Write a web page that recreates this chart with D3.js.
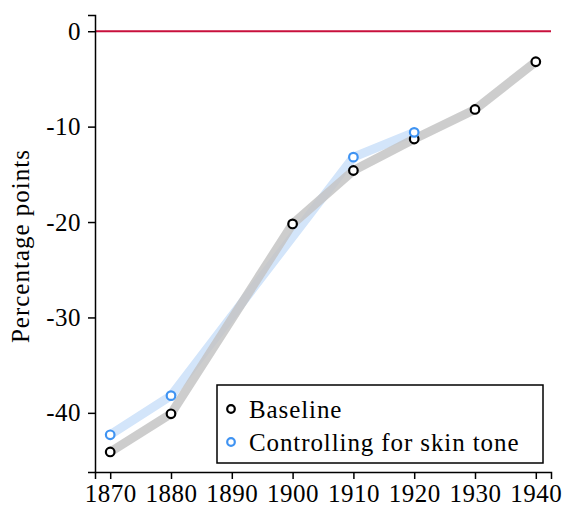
<!DOCTYPE html>
<html lang="en">
<head>
<meta charset="utf-8">
<title>Percentage points by census year</title>
<script src="https://d3js.org/d3.v7.min.js"></script>
<style>
  body { margin: 0; background: #fff; }
  text { font-family: "Liberation Serif", "Times New Roman", serif; }
</style>
</head>
<body>
<script>
// census years and estimates
var years = [1870, 1880, 1890, 1900, 1910, 1920, 1930, 1940];
var baseYears = [1870, 1880, 1900, 1910, 1920, 1930, 1940];
var baseline = [-44.1, -40.1, -20.2, -14.6, -11.3, -8.2, -3.2];
var skinYears = [1870, 1880, 1910, 1920];
var skinTone = [-42.3, -38.2, -13.2, -10.6];
var yTicks = [0, -10, -20, -30, -40];
var legendLabels = ["Baseline", "Controlling for skin tone"];

var width = 562, height = 508;
var svg = d3.select("body").append("svg")
    .attr("width", width)
    .attr("height", height);

var x = d3.scaleLinear().domain([1867.5, 1942.5]).range([95, 551]);
var y = d3.scaleLinear().domain([-46.2, 1.7]).range([472, 15]);

var line = d3.line()
    .x(function(d) { return x(d[0]); })
    .y(function(d) { return y(d[1]); });

var basePts = d3.zip(baseYears, baseline);
var skinPts = d3.zip(skinYears, skinTone);

// zero reference line
svg.append("line")
    .attr("x1", x.range()[0]).attr("x2", x.range()[1])
    .attr("y1", y(0)).attr("y2", y(0))
    .attr("stroke", "#c8103c")
    .attr("stroke-width", 2);

// bands
svg.append("path")
    .datum(skinPts)
    .attr("d", line)
    .attr("fill", "none")
    .attr("stroke", "#d3e5fa")
    .attr("stroke-width", 9)
    .attr("stroke-linejoin", "round");

svg.append("path")
    .datum(basePts)
    .attr("d", line)
    .attr("fill", "none")
    .attr("stroke", "#c4c4c4")
    .attr("stroke-opacity", 0.85)
    .attr("stroke-width", 9)
    .attr("stroke-linejoin", "round");

// points
svg.append("g").selectAll("circle")
    .data(basePts)
    .enter().append("circle")
    .attr("cx", function(d) { return x(d[0]); })
    .attr("cy", function(d) { return y(d[1]); })
    .attr("r", 4.3)
    .attr("fill", "#fff")
    .attr("stroke", "#000")
    .attr("stroke-width", 2.2);

svg.append("g").selectAll("circle")
    .data(skinPts)
    .enter().append("circle")
    .attr("cx", function(d) { return x(d[0]); })
    .attr("cy", function(d) { return y(d[1]); })
    .attr("r", 4.3)
    .attr("fill", "#fff")
    .attr("stroke", "#3f93f2")
    .attr("stroke-width", 2.2);

// axes
var xAxis = svg.append("g")
    .attr("transform", "translate(0," + y.range()[0] + ")")
    .call(d3.axisBottom(x).tickValues(years).tickFormat(d3.format("d")).tickSizeOuter(0).tickSize(7).tickPadding(5));

var yAxis = svg.append("g")
    .attr("transform", "translate(" + x.range()[0] + ",0)")
    .call(d3.axisLeft(y).tickValues(yTicks).tickFormat(function(d) { return d === 0 ? "0" : "-" + Math.abs(d); }).tickSizeOuter(0).tickSize(7).tickPadding(7));

[xAxis, yAxis].forEach(function(a) {
  a.selectAll("path, line").attr("stroke", "#000").attr("stroke-width", 1.5);
  a.selectAll("text")
    .attr("fill", "#000")
    .style("font-family", "'Liberation Serif', serif")
    .style("font-size", "25px")
    .style("letter-spacing", "0.5px");
});

svg.append("text")
    .attr("transform", "translate(29," + ((y(-10) + y(-30)) / 2 + 24) + ") rotate(-90)")
    .attr("text-anchor", "middle")
    .attr("fill", "#000")
    .style("font-size", "25px")
    .style("letter-spacing", "1px")
    .text("Percentage points");

// legend
var legend = svg.append("g").attr("transform", "translate(217,385)");
legend.append("rect")
    .attr("width", 326).attr("height", 78)
    .attr("fill", "#fff")
    .attr("stroke", "#000")
    .attr("stroke-width", 1.5);

var legendColors = ["#000", "#3f93f2"];
var items = legend.selectAll("g.item")
    .data(legendLabels)
    .enter().append("g")
    .attr("class", "item")
    .attr("transform", function(d, i) { return "translate(0," + (26 + i * 33) + ")"; });

items.append("circle")
    .attr("cx", 14).attr("cy", -2)
    .attr("r", 3.8)
    .attr("fill", "#fff")
    .attr("stroke", function(d, i) { return legendColors[i]; })
    .attr("stroke-width", 2.2);

items.append("text")
    .attr("x", 32).attr("y", 7)
    .attr("fill", "#000")
    .style("font-size", "25px")
    .style("letter-spacing", "0.9px")
    .text(function(d) { return d; });
</script>
</body>
</html>
